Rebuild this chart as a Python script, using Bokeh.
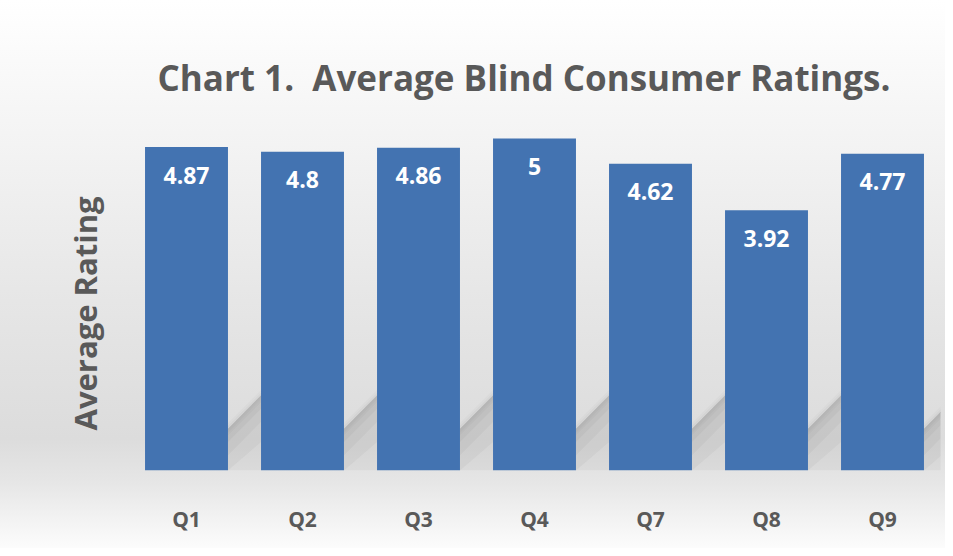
import numpy as np
from bokeh.plotting import figure
from bokeh.models import Range1d, FixedTicker, ColumnDataSource, Title
from bokeh.core.properties import value
from bokeh.embed import file_html
from bokeh.resources import INLINE

categories = ["Q1", "Q2", "Q3", "Q4", "Q7", "Q8", "Q9"]
ratings = [4.87, 4.8, 4.86, 5.0, 4.62, 3.92, 4.77]
rating_labels = ["4.87", "4.8", "4.86", "5", "4.62", "3.92", "4.77"]

TEXT_GRAY = "#595959"
BAR = "#4373b1"
FONT = "Open Sans"

xs = np.arange(len(categories))
bar_w = 0.715

p = figure(width=945, height=548, output_backend="svg", toolbar_location=None,
           x_range=Range1d(-0.5, len(categories) - 0.5),
           y_range=Range1d(0, 5.572),
           min_border_left=128, min_border_right=5,
           min_border_top=100, min_border_bottom=78)

p.border_fill_alpha = 0
p.background_fill_alpha = 0
p.outline_line_color = None
p.styles = {
    "background-image": "linear-gradient(to bottom, #ffffff 0%, #f5f5f5 22%, #e6e6e6 55%, #dcdcdc 80%, #e6e6e6 88%, #fcfcfc 100%)",
}
p.grid.visible = False

# soft diagonal shadows cast between the bars (darkest just below the diagonal)
gap = 1 - bar_w
t0, t1 = 0.63, 1.13
for up, depth, alpha in [(0.08, 0.1, 0.03), (0.04, 0.1, 0.04), (0.0, 3.0, 0.06),
                         (0.0, 0.7, 0.05), (0.0, 0.4, 0.05), (0.0, 0.2, 0.05),
                         (0.0, 0.1, 0.04)]:
    sx, sy = [], []
    for i in range(len(categories)):
        xr = xs[i] + bar_w / 2
        xl = xr + gap
        sx.append([xr, xl, xl, xr])
        sy.append([t0 + up, t1 + up, max(t1 + up - depth, 0.0), max(t0 + up - depth, 0.0)])
    p.patches(sx, sy, fill_color="#505050", fill_alpha=alpha, line_color=None)

src = ColumnDataSource(dict(x=xs, top=ratings, label=rating_labels))
p.vbar(x="x", top="top", bottom=0, width=bar_w, source=src,
       fill_color=BAR, line_color=None)
p.text(x="x", y="top", text="label", source=src, y_offset=28,
       text_align="center", text_baseline="middle",
       text_color="white", text_font=value(FONT), text_font_style="bold",
       text_font_size="23px")

p.xaxis.ticker = FixedTicker(ticks=list(xs))
p.xaxis.major_label_overrides = {int(i): c for i, c in zip(xs, categories)}
p.xaxis.axis_line_color = None
p.xaxis.major_tick_line_color = None
p.xaxis.minor_tick_line_color = None
p.xaxis.major_label_standoff = 28
p.xaxis.major_label_text_font = FONT
p.xaxis.major_label_text_font_style = "bold"
p.xaxis.major_label_text_font_size = "21px"
p.xaxis.major_label_text_color = TEXT_GRAY

p.yaxis.visible = False

p.add_layout(Title(text="Average Rating", align="left", offset=40, standoff=45,
                   text_font=FONT, text_font_style="bold",
                   text_font_size="31px", text_color=TEXT_GRAY), "left")

p.title.text = "Chart 1.\u00a0 Average Blind Consumer Ratings."
p.title.align = "left"
p.title.offset = 29
p.title.text_font = FONT
p.title.text_font_style = "bold"
p.title.text_font_size = "35px"
p.title.text_color = TEXT_GRAY
p.title.standoff = 0

open("out.html", "w").write(file_html(p, INLINE))
